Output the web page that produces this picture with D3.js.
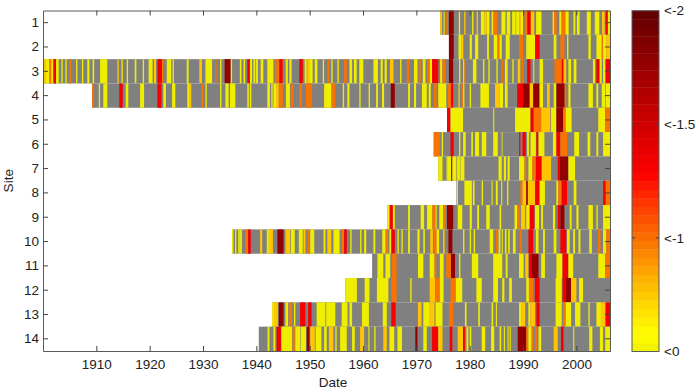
<!DOCTYPE html>
<html>
<head>
<meta charset="utf-8">
<script src="https://cdn.jsdelivr.net/npm/d3@7"></script>
<style>
  html, body { margin: 0; background: #fff; }
  svg { display: block; }
  text { font-family: "Liberation Sans", Arial, sans-serif; fill: #222; }
</style>
</head>
<body>
<div id="chart"></div>
<script>
// deficit levels
const Y = -0.03, A = -0.6, O = -1, R = -1.35, D = -1.8

const sites = d3.range(1, 15)
const xTicks = [1910, 1920, 1930, 1940, 1950, 1960, 1970, 1980, 1990, 2000]
const barTicks = [0, -1, -1.5, -2]
const barLabels = ['<0', '<-1', '<-1.5', '<-2']

// first year of record per site, years since 1900
const siteStart = [74.45, 76.1, 0, 9.2, 75.75, 73.25, 74.1, 77.5, 64.6, 35.45, 61.7, 56.7, 42.95, 40.45]
const recordEnd = 106.3

// deficit runs per site: [from, to, value], years since 1900. Anything else is grey (no deficit)
const site1 = [[74.45,74.8,A],[75.1,75.3,Y],[75.6,75.95,O],[76.1,77,D],[77.95,78.2,Y],[78.95,79.2,A],[80.45,80.7,Y],[81.3,81.55,A],[82.1,82.8,Y],[82.8,83.2,A],[83.2,83.7,Y],[84.1,84.45,Y],[84.45,85.2,O],[85.95,86.7,Y],[86.95,87.6,Y],[87.95,88.6,Y],[88.7,89.3,Y],[89.3,89.6,A],[89.6,90,Y],[90.3,90.8,O],[90.8,91.45,R],[91.45,92.1,A],[92.45,93.45,Y],[95.55,95.8,Y],[95.8,96.3,O],[96.8,97.2,Y],[97.2,97.95,O],[97.95,98.55,Y],[99.45,99.8,Y],[100.1,100.6,Y],[101.95,102.7,Y],[103.45,104.3,Y],[104.8,105.3,A],[105.5,105.9,R],[105.9,106.3,Y]]
const site2 = [[76.1,77,D],[77.9,78.4,Y],[78.4,78.8,A],[80,80.4,Y],[81,81.6,Y],[83.25,83.6,Y],[84.5,85.2,Y],[85.2,85.6,O],[85.6,86,Y],[86.75,87.5,Y],[89.25,90,O],[90.6,92.25,Y],[92.25,93.1,R],[95.75,96.25,Y],[97,97.75,O],[98.25,98.5,Y],[102.25,102.7,Y],[103.75,104.75,Y],[104.75,105,O],[105,105.6,Y],[105.6,106.3,A]]
const site3 = [[0.05,0.45,A],[0.45,1.2,Y],[1.2,1.55,O],[1.55,1.95,Y],[1.95,2.45,R],[2.45,2.95,Y],[3.45,3.7,Y],[4.2,4.45,Y],[4.95,5.3,O],[6.2,6.45,Y],[7.3,7.55,Y],[8.3,8.7,Y],[9.3,9.6,Y],[10.7,12.05,Y],[13.95,14.2,A],[14.7,14.95,Y],[15.7,15.95,Y],[17.2,17.5,Y],[18.7,18.95,Y],[19.8,20.55,Y],[20.8,21.2,A],[21.45,22.3,R],[22.3,22.55,O],[23.2,24.05,Y],[24.3,24.55,Y],[26.95,27.3,Y],[29.3,29.8,A],[30.45,31.7,Y],[32.3,32.55,O],[33.2,33.45,Y],[34.05,35.2,D],[35.2,35.45,Y],[36.9,37.2,Y],[37.6,37.9,Y],[38.3,38.8,R],[38.8,39.2,Y],[39.45,39.8,Y],[39.95,40.3,Y],[40.8,41.3,Y],[42.05,43.2,Y],[43.45,43.8,O],[43.8,44.3,O],[44.3,44.95,R],[44.95,45.05,O],[45.5,45.9,Y],[46.2,46.6,Y],[48.05,48.7,R],[49.05,49.45,Y],[49.55,50.05,A],[50.05,50.55,Y],[50.95,51.45,Y],[52.45,52.7,Y],[53.3,53.7,O],[54.05,54.3,Y],[55.2,55.45,Y],[56.45,56.95,O],[57.45,57.95,Y],[58.3,58.8,Y],[59.3,60.05,Y],[61.95,62.8,Y],[63.3,63.7,Y],[64.05,64.45,Y],[65.05,65.7,A],[66.95,67.2,Y],[68.2,68.7,O],[69.55,70.2,Y],[70.45,70.8,O],[71.2,71.7,Y],[72.05,72.55,O],[72.55,72.95,Y],[72.95,74.1,R],[74.45,74.85,Y],[74.9,75.4,O],[76.1,76.9,D],[78,78.25,Y],[78.75,79,Y],[79,79.25,O],[80.6,81.25,Y],[82.5,82.75,Y],[83.5,83.75,Y],[85,85.25,Y],[86,86.25,O],[86.6,87.1,Y],[88,88.25,Y],[89,89.5,A],[89.75,90.1,O],[90.75,91.4,R],[91.9,92.1,Y],[93.1,93.75,Y],[95.9,97.25,O],[97.25,97.6,R],[97.6,98.1,A],[98.5,99,Y],[99.5,100,Y],[103.1,103.5,Y],[103.75,104.25,R],[104.4,104.75,Y],[105,105.4,Y],[105.5,106.3,R]]
const site4 = [[9.2,9.45,O],[10.45,10.7,Y],[11.3,12.05,Y],[14.3,14.95,R],[15.5,16,Y],[18.2,18.95,Y],[21.45,22.2,R],[22.55,23.05,Y],[24.2,24.8,Y],[27.05,27.5,Y],[27.5,27.8,A],[29.7,30.05,O],[30.45,30.7,Y],[33.2,33.45,Y],[34.2,34.8,Y],[35.06,36.05,Y],[38.3,38.6,Y],[38.6,38.8,O],[38.8,39.05,Y],[42.05,42.55,Y],[42.8,43.05,Y],[43.2,43.7,Y],[43.7,44.2,A],[44.2,44.95,O],[45.55,46.3,Y],[46.45,46.95,O],[48.05,48.55,O],[49.3,50.45,O],[52.7,54.05,Y],[54.2,54.8,O],[56.2,56.45,Y],[57.05,57.45,Y],[59.3,59.55,Y],[61.05,61.3,Y],[62.45,62.8,Y],[63.55,63.95,Y],[65.2,65.95,D],[68.45,68.8,Y],[69.55,69.95,Y],[71.05,71.95,Y],[72.3,72.7,Y],[73.3,73.8,O],[74.1,75.6,Y],[75.9,76.5,O],[76.5,76.9,R],[77.9,78.1,Y],[78.5,78.75,O],[78.75,79,Y],[80,80.25,Y],[82,83.6,Y],[84.75,85.6,A],[85.6,86.25,Y],[86.6,87.1,Y],[88.9,90,R],[90,91.25,D],[91.25,91.9,A],[91.9,93.1,D],[93.1,93.75,Y],[94.5,95,A],[95.75,96.25,Y],[96.25,97.8,D],[97.8,98.1,O],[98.5,98.9,Y],[102.25,103.1,Y],[103.75,104.1,Y],[104.75,105.4,Y],[105.5,106.3,Y]]
const site5 = [[75.75,76.4,R],[76.4,78.75,Y],[84.4,84.6,Y],[88.5,91.4,Y],[91.4,92,R],[92,93.4,O],[93.4,95.1,A],[95.25,96.25,Y],[96.25,97.5,D],[97.5,98,O],[98,99.1,Y],[104.1,105.4,Y],[105.4,106.3,O]]
const site6 = [[73.25,74.4,O],[74.75,75,Y],[76.4,77,R],[78,78.25,Y],[78.75,79.25,Y],[80.3,80.6,Y],[81,81.75,Y],[82.25,83.1,Y],[84.4,85.25,Y],[86,86.15,Y],[89.25,89.5,R],[89.9,90.5,R],[90.75,91.1,Y],[91.4,92.4,Y],[92.5,92.9,R],[92.9,94,Y],[95.6,96.25,Y],[96.25,97,R],[97,98.25,O],[99.6,100.5,Y],[102.1,102.6,Y],[103.75,104.1,Y],[105,106.3,Y]]
const site7 = [[74.1,74.9,Y],[75.65,75.9,Y],[75.9,76.5,Y],[76.5,76.75,R],[76.75,77.5,Y],[77.65,78.15,Y],[78.25,79,Y],[85.4,86,Y],[86.4,86.8,Y],[87.1,87.5,Y],[89.25,90.25,Y],[90.25,90.6,O],[91,91.75,Y],[91.75,92.4,O],[92.4,93.5,R],[93.5,95.25,A],[96.5,96.9,R],[96.9,98.5,D],[98.5,99.75,Y]]
const site8 = [[77.6,77.8,Y],[79,80.4,Y],[80.6,80.9,Y],[82.25,82.5,Y],[84.1,84.3,Y],[84.9,85.25,Y],[85.9,86.1,Y],[87,87.25,Y],[89.5,89.9,O],[89.9,90.6,A],[90.6,90.9,D],[90.9,92.25,A],[92.25,93.1,R],[93.1,94.1,Y],[96.25,96.6,Y],[96.6,97.1,O],[97.25,98.25,R],[99.5,100,Y],[105,105.5,R],[105.5,106.3,O]]
const site9 = [[64.6,65,Y],[65,65.6,R],[65.6,65.95,Y],[68.45,68.8,Y],[70.8,71.45,Y],[72,73,Y],[73,73.6,O],[73.6,73.8,Y],[74.3,75,Y],[75,75.45,O],[75.75,76.9,D],[77.75,78.6,Y],[80,80.4,Y],[81.4,81.75,Y],[83.1,83.75,Y],[85.6,85.9,Y],[88.4,88.9,Y],[88.9,89.4,O],[89.6,90.4,A],[90.6,91.25,Y],[91.25,92.1,R],[92.25,93,Y],[93.4,93.75,Y],[95.6,96,Y],[96.5,97,R],[97,97.75,D],[98.75,99.1,Y],[100,100.4,Y],[102.25,103.1,Y],[103.75,104,Y],[105,106.3,Y]]
const site10 = [[35.45,35.7,Y],[36,36.25,Y],[36.6,36.9,Y],[36.95,37.3,Y],[37.95,38.45,O],[38.45,38.95,R],[40.7,41.1,A],[41.95,42.35,Y],[42.35,43.1,A],[43.95,45.1,D],[45.45,46.3,A],[46.45,47.2,Y],[47.95,48.7,Y],[48.85,49.2,A],[49.6,49.95,O],[50.1,50.85,Y],[52.6,52.95,Y],[53.3,54.05,A],[54.45,55.6,Y],[55.95,56.45,O],[56.45,56.95,R],[57.6,57.85,Y],[59.45,59.7,Y],[60.2,60.6,Y],[61.95,62.3,Y],[63.6,64.2,Y],[64.3,64.7,O],[64.95,65.3,Y],[65.3,65.95,R],[66.45,66.7,Y],[67.2,67.45,Y],[68.45,68.8,Y],[70.2,70.6,Y],[71.3,71.6,Y],[72.6,73.1,A],[73.3,73.8,O],[73.8,74.25,Y],[75,75.3,A],[76,76.75,D],[78.75,79,Y],[80,80.25,Y],[80.75,81,Y],[83.75,84.4,Y],[84.9,85.25,O],[85.4,85.75,Y],[86,86.2,Y],[86.6,86.9,Y],[87.2,87.5,Y],[88.1,88.6,Y],[89.4,89.75,O],[91,91.9,R],[92.4,92.9,Y],[93.75,94.1,Y],[95.75,96.25,Y],[97,98.1,R],[98.25,98.75,Y],[99.4,99.75,Y],[100.4,100.75,Y],[102.4,102.9,Y],[104,104.5,O],[105,105.6,Y],[105.6,106.3,O]]
const site11 = [[62.7,63.8,Y],[64.2,65.1,Y],[65.45,66.3,O],[70.3,71.3,Y],[72.5,73.4,Y],[73.4,73.75,O],[74.4,75.1,Y],[75.6,76.5,O],[76.5,77.25,D],[78,78.25,Y],[80.4,81.6,Y],[84.4,86.1,Y],[86.75,87.1,Y],[89.25,90.1,Y],[90.4,91,A],[91.1,91.6,R],[91.6,92.9,D],[93.4,94.1,Y],[96.25,97.4,Y],[97.4,98.5,R],[98.5,99.4,Y],[104.1,105.4,Y],[105.4,106.3,O]]
const site12 = [[56.7,58.85,Y],[60.3,61.2,Y],[62.6,64.75,Y],[65.3,66.3,O],[68.85,69.1,Y],[72.5,73.5,A],[73.5,74.4,O],[74.4,75.1,Y],[76.4,77.4,O],[77.4,78.6,Y],[81.25,82.25,Y],[84.4,85.3,Y],[86.1,86.5,Y],[87.4,87.9,Y],[90.6,91.1,Y],[91.1,91.9,O],[92.2,93.1,R],[96.1,97.25,Y],[97.4,98,R],[98,99,D],[99,100,A],[100.5,101.25,Y]]
const site13 = [[42.95,43.3,Y],[43.3,44.05,A],[44.2,45.1,D],[45.45,45.95,Y],[46.1,46.7,O],[47.05,47.3,Y],[48.2,49.2,R],[49.7,50.35,R],[51.3,52.95,Y],[53.1,54.8,Y],[56,57.1,Y],[57.45,57.95,Y],[59.8,61.1,Y],[63.7,64.45,Y],[65.3,66.1,R],[70.3,70.95,A],[71.3,72.5,Y],[72.5,73.4,A],[73.6,74.9,Y],[76.1,76.9,O],[79.1,79.4,Y],[81.6,81.9,Y],[84.1,84.4,Y],[84.9,85.1,Y],[89.25,89.75,Y],[89.75,90.4,A],[91,91.4,Y],[91.4,92.25,A],[92.5,93.1,R],[96.1,97.25,Y],[97.5,98,O],[98,99,Y],[99.75,100.75,Y],[102.25,102.5,Y],[103.75,104.6,Y],[104.6,105.4,A],[105.5,106.3,R]]
const site14 = [[42.1,42.45,Y],[43.2,43.55,Y],[43.8,44.6,R],[44.7,46.7,Y],[46.8,47.2,O],[47.3,48.2,Y],[48.3,49.3,Y],[49.45,49.95,D],[50.1,50.95,A],[51.1,52.2,Y],[52.7,53.2,Y],[53.6,54.45,A],[54.8,55.05,Y],[55.7,56.95,Y],[57.95,58.45,Y],[59.45,60.2,A],[61,61.2,Y],[62.1,62.35,Y],[63.8,64.45,A],[64.95,65.85,Y],[66.45,67.3,Y],[69.8,70.2,D],[71.3,71.95,Y],[72.95,74.1,R],[74.1,74.9,A],[76.25,76.75,R],[77.75,78.75,A],[78.75,79.1,R],[79.4,79.75,Y],[80,80.3,Y],[82.25,82.9,Y],[84,84.6,Y],[85.6,85.9,Y],[86.4,86.6,Y],[87.1,87.3,Y],[87.5,87.7,Y],[89,90.6,D],[90.6,91,O],[91,91.6,Y],[91.6,92,O],[92.25,92.6,O],[92.9,93.4,Y],[95.75,96.5,A],[97.1,97.6,R],[99.4,99.6,Y],[102.4,103,Y],[104.4,105,Y],[105.4,106.3,Y]]
const siteRuns = [site1, site2, site3, site4, site5, site6, site7, site8, site9, site10, site11, site12, site13, site14]

const W = 700, H = 392
const PLOT = { left: 43, right: 610, top: 10.5, bottom: 351 }
const BAR = { left: 632, right: 659, top: 10.7, bottom: 351.5 }
const GREY = '#808080', AXIS = '#5a5a5a', BANDS = 40
const FONT = 13.5

const svg = d3.select('#chart').append('svg').attr('width', W).attr('height', H)

const x = d3.scaleLinear().domain([1900, 1900 + recordEnd]).range([PLOT.left, PLOT.right])
const y = d3.scaleBand().domain(sites).range([PLOT.top, PLOT.bottom])

// the bar's ticks are evenly spaced although the values are not
const barPos = d3.scaleLinear().domain(barTicks).range([0, 1 / 3, 2 / 3, 1])
const ramp = d3.scaleLinear()
  .domain([0, 0.05, 0.17, 0.33, 0.44, 0.52, 0.72, 1])
  .range(['#efed00', '#ffff00', '#ffc800', '#f97000', '#ff3500', '#ff0000', '#bf0000', '#600000'])
const band = t => Math.min(BANDS - 1, Math.floor(t * BANDS))
const colour = v => ramp(band(barPos(v)) / BANDS)

const defs = svg.append('defs')
defs.append('filter').attr('id', 'soft')
  .attr('x', 0).attr('y', 0).attr('width', 1).attr('height', 1)
  .append('feGaussianBlur').attr('stdDeviation', 0.35)

const cells = svg.append('g').attr('filter', 'url(#soft)')
const rows = cells.selectAll('g.site').data(sites).join('g').attr('class', 'site')

rows.append('rect')
  .attr('x', (d, i) => x(1900 + siteStart[i]))
  .attr('width', (d, i) => x(1900 + recordEnd) - x(1900 + siteStart[i]))
  .attr('y', d => y(d))
  .attr('height', y.bandwidth())
  .attr('fill', GREY)

rows.each(function (d, i) {
  d3.select(this).selectAll('rect.run').data(siteRuns[i]).join('rect')
    .attr('class', 'run')
    .attr('x', r => x(1900 + r[0]))
    .attr('width', r => x(1900 + r[1]) - x(1900 + r[0]))
    .attr('y', y(d))
    .attr('height', y.bandwidth())
    .attr('fill', r => colour(r[2]))
})

function styleAxis(g) {
  g.selectAll('path').attr('stroke', AXIS)
  g.selectAll('line').attr('stroke', '#444')
  g.selectAll('text').attr('font-size', FONT)
}

const xFmt = d3.format('d')
svg.append('g').attr('transform', `translate(0,${PLOT.bottom})`)
  .call(d3.axisBottom(x).tickValues(xTicks).tickFormat(xFmt).tickSizeInner(-5).tickSizeOuter(0).tickPadding(8))
  .call(styleAxis)
svg.append('g').attr('transform', `translate(0,${PLOT.top})`)
  .call(d3.axisTop(x).tickValues(xTicks).tickFormat('').tickSizeInner(-5).tickSizeOuter(0))
  .call(styleAxis)
svg.append('g').attr('transform', `translate(${PLOT.left},0)`)
  .call(d3.axisLeft(y).tickSizeInner(-5).tickSizeOuter(0).tickPadding(4))
  .call(styleAxis)
svg.append('g').attr('transform', `translate(${PLOT.right},0)`)
  .call(d3.axisRight(y).tickFormat('').tickSizeInner(-5).tickSizeOuter(0))
  .call(styleAxis)

svg.append('text').attr('x', 333).attr('y', 387)
  .attr('text-anchor', 'middle').attr('font-size', FONT).text('Date')
svg.append('text').attr('transform', `translate(13,${(PLOT.top + PLOT.bottom) / 2}) rotate(-90)`)
  .attr('text-anchor', 'middle').attr('font-size', FONT).text('Site')

// colour bar
const barY = d3.scaleLinear().domain([0, 1]).range([BAR.bottom, BAR.top])
const barG = svg.append('g')
barG.selectAll('rect').data(d3.range(BANDS)).join('rect')
  .attr('x', BAR.left)
  .attr('width', BAR.right - BAR.left)
  .attr('y', i => barY((i + 1) / BANDS))
  .attr('height', (BAR.bottom - BAR.top) / BANDS + 0.4)
  .attr('fill', i => ramp((i + 0.5) / BANDS))
barG.append('rect')
  .attr('x', BAR.left).attr('y', BAR.top)
  .attr('width', BAR.right - BAR.left).attr('height', BAR.bottom - BAR.top)
  .attr('fill', 'none').attr('stroke', AXIS)

const barScale = d3.scaleOrdinal().domain(barTicks).range(barLabels)
barG.selectAll('text').data(barTicks).join('text')
  .attr('x', BAR.right + 5)
  .attr('y', v => barY(barPos(v)))
  .attr('dy', '0.35em')
  .attr('font-size', FONT)
  .text(v => barScale(v))
barG.selectAll('path.tick').data(barTicks.slice(1, 3)).join('path')
  .attr('class', 'tick')
  .attr('stroke', '#444')
  .attr('d', v => {
    const p = d3.path(), ty = barY(barPos(v))
    p.moveTo(BAR.left, ty); p.lineTo(BAR.left + 3, ty)
    p.moveTo(BAR.right - 3, ty); p.lineTo(BAR.right, ty)
    return p.toString()
  })
</script>
</body>
</html>
